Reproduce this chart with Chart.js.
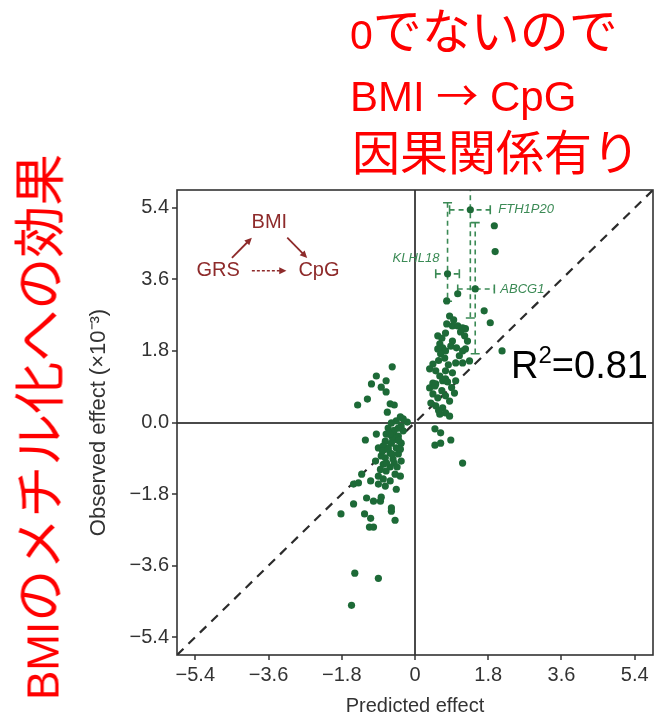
<!DOCTYPE html>
<html>
<head>
<meta charset="utf-8">
<script src="https://cdn.jsdelivr.net/npm/chart.js@4.4.1/dist/chart.umd.min.js"></script>
<style>
  html, body { margin: 0; padding: 0; background: #fff; }
  #wrap { position: relative; width: 657px; height: 715px; overflow: hidden; }
  #c { position: absolute; left: 0; top: 0; }
  .note { position: absolute; color: #ff0000; font-family: "Noto Sans CJK JP", sans-serif; white-space: nowrap; line-height: 1; }
  .lat { font-family: "Liberation Sans", Arial, sans-serif; }
  .r2 { position: absolute; color: #000; font-family: "Liberation Sans", Arial, sans-serif; white-space: nowrap; line-height: 1; }
</style>
</head>
<body>
<div id="wrap">
  <canvas id="c" width="657" height="715"></canvas>
  <div class="note" style="left:350px; top:3px; font-size:49px;"><span class="lat" style="font-size:41px;">0</span>でないので</div>
  <div class="note" style="left:350px; top:72px; font-size:42px;"><span class="lat">BMI </span>→<span class="lat"> CpG</span></div>
  <div class="note" style="left:352px; top:125px; font-size:48px;">因果関係有り</div>
  <div class="note" style="left:38px; top:700px; font-size:52px; transform-origin:0 0; transform:rotate(-90deg) translateY(-50%);"><span class="lat" style="font-size:44px;">BMI</span>のメチル化への効果</div>
  <div class="r2" style="left:511px; top:346px; font-size:38px;">R<span style="font-size:24px; position:relative; top:-15px;">2</span>=0.81</div>
</div>
<script>
// Predicted vs observed CpG methylation effect of BMI (x10^-3)
const predicted = [
  1.95, 1.97, 0.78, 1.05, 1.70, 1.85, 0.85, 0.78, 0.92, 1.05, 1.17, 1.24,
  0.75, 1.22, 0.61, 0.68, 0.56, 0.75, 1.17, 1.24, 0.63, 1.09, 0.73, 1.17,
  0.44, 1.34, 2.14, 0.36, 0.51, 0.75, 0.61, 0.68, 0.44, 0.75, 0.92, 1.00,
  0.36, 0.49, 0.51, 0.80, 0.97, 0.44, 0.56, 0.75, 0.39, 0.51, 0.85, 0.68,
  0.75, 0.85, 0.61, 1.29, 0.92, 0.56, 1.00, 0.95, 1.12, 0.66, 0.88, 1.02,
  0.58, 0.82, 0.66, 0.90, 0.58,
  1.36, 0.80, 1.48,
  0.49, 0.63, 0.88, 0.63, 0.49, 1.17,
  -0.56, -0.95, -0.71, -1.07, -0.83, -0.71, -1.17, -1.41, -0.61, -0.51, -0.68, -0.36,
  -0.19, -0.46, -0.58, -0.34, -0.66, -0.95, -1.22, -0.71, -0.54, -0.41, -0.73, -0.58,
  -0.34, -0.90, -0.66, -0.46, -0.61, -0.73, -0.54, -0.97, -0.34, -0.83, -0.41, -0.78,
  -1.31, -0.90, -0.71, -0.49, -0.36, -0.78, -0.61, -1.51, -1.39, -1.09, -0.90, -0.73,
  -0.46, -1.19, -1.02, -0.83, -0.85, -1.51, -0.58, -0.58, -1.82, -1.24, -1.09, -0.49,
  -1.12, -1.02, -1.48, -0.90, -1.56,
  -0.29, -0.46, -0.36, -0.51, -0.61, -0.29, -0.41, -0.78, -0.56, -0.80, -0.66, -0.51,
  -0.40, -0.62, -0.70, -0.56, -0.44, -0.85
];
const observed = [
  4.95, 4.30, 3.06, 3.24, 2.81, 2.51, 2.68, 2.48, 2.43, 2.43, 2.38, 2.36,
  2.25, 2.18, 1.98, 1.88, 1.85, 1.80, 1.80, 1.85, 1.73, 1.68, 1.62, 1.50,
  1.47, 1.55, 1.80, 1.35, 1.30, 1.30, 1.17, 1.05, 0.99, 1.10, 1.25, 1.05,
  0.87, 0.92, 0.97, 1.02, 0.74, 0.72, 0.62, 0.67, 0.49, 0.42, 0.54, 0.37,
  0.24, 0.16, 0.21, 2.05, 2.05, 2.18, 1.50, 2.58, 2.28, 2.12, 1.92, 1.88,
  1.56, 1.45, 0.80, 0.88, 0.30,
  5.35, 3.74, 3.36,
  -0.16, -0.26, -0.44, -0.52, -0.57, -1.02,
  1.40, 1.17, 1.05, 0.97, 0.89, 0.77, 0.59, 0.44, 0.47, 0.44, 0.26, 0.14,
  0.01, 0.04, -0.01, -0.09, -0.14, -0.29, -0.44, -0.29, -0.26, -0.34, -0.47, -0.52,
  -0.52, -0.64, -0.64, -0.64, -0.77, -0.89, -0.92, -0.97, -0.97, -0.84, -0.79, -1.05,
  -1.30, -1.35, -1.22, -1.30, -1.35, -1.42, -1.47, -1.55, -1.52, -1.47, -1.55, -1.60,
  -1.68, -1.90, -1.98, -1.88, -1.98, -2.05, -2.15, -2.23, -2.30, -2.30, -2.41, -2.46,
  -2.63, -2.63, -3.79, -3.92, -4.60,
  -0.21, -0.42, -0.67, -1.02, -1.12, 0.09, -0.14, -0.59, -0.37, -0.72, -0.67, -0.20,
  -0.45, -0.30, -1.02, -0.80, -1.12, -1.18
];

// Highlighted CpG sites with confidence intervals
const ebNames = ['FTH1P20', 'KLHL18', 'ABCG1'];
const ebX     = [1.36, 0.80, 1.48];
const ebY     = [5.35, 3.74, 3.36];
const ebXLow  = [0.85, 0.51, 1.05];
const ebXHigh = [1.85, 1.09, 1.95];
const ebYLow  = [2.63, 3.05, 1.73];
const ebYHigh = [6.40, 5.53, 5.03];

const tickValues  = [-5.4, -3.6, -1.8, 0, 1.8, 3.6, 5.4];
const xTickLabels = ['\u22125.4', '\u22123.6', '\u22121.8', '0', '1.8', '3.6', '5.4'];
const yTickLabels = ['\u22125.4', '\u22123.6', '\u22121.8', '0.0', '1.8', '3.6', '5.4'];
const axisLimit = 5.85;

const pointColor = '#1d6a37';
const barColor = '#3b8a55';
const insetColor = '#8e2b2b';
const axisFont = { family: '"Liberation Sans", Arial, sans-serif', size: 20 };

function drawArrow(ctx, x1, y1, x2, y2, dashed) {
  const ang = Math.atan2(y2 - y1, x2 - x1);
  const head = 8;
  ctx.beginPath();
  ctx.setLineDash(dashed ? [3, 2] : []);
  ctx.moveTo(x1, y1);
  ctx.lineTo(x2 - Math.cos(ang) * head * 0.8, y2 - Math.sin(ang) * head * 0.8);
  ctx.stroke();
  ctx.setLineDash([]);
  ctx.beginPath();
  ctx.moveTo(x2, y2);
  ctx.lineTo(x2 - head * Math.cos(ang - 0.45), y2 - head * Math.sin(ang - 0.45));
  ctx.lineTo(x2 - head * Math.cos(ang + 0.45), y2 - head * Math.sin(ang + 0.45));
  ctx.closePath();
  ctx.fill();
}

const extras = {
  id: 'extras',
  beforeDatasetsDraw(chart) {
    const { ctx, chartArea: a, scales: { x, y } } = chart;
    ctx.save();
    ctx.beginPath();
    ctx.rect(a.left, a.top, a.width, a.height);
    ctx.clip();
    ctx.strokeStyle = barColor;
    ctx.lineWidth = 1.6;
    const cap = 4.5;
    for (let i = 0; i < ebNames.length; i++) {
      const px = x.getPixelForValue(ebX[i]);
      const py = y.getPixelForValue(ebY[i]);
      const xl = x.getPixelForValue(ebXLow[i]);
      const xh = x.getPixelForValue(ebXHigh[i]);
      const yl = y.getPixelForValue(ebYLow[i]);
      const yh = y.getPixelForValue(ebYHigh[i]);
      ctx.setLineDash([5, 4]);
      ctx.beginPath();
      ctx.moveTo(xl, py); ctx.lineTo(xh, py);
      ctx.moveTo(px, yh); ctx.lineTo(px, yl);
      ctx.stroke();
      ctx.setLineDash([]);
      ctx.beginPath();
      ctx.moveTo(xl, py - cap); ctx.lineTo(xl, py + cap);
      ctx.moveTo(xh, py - cap); ctx.lineTo(xh, py + cap);
      ctx.moveTo(px - cap, yh); ctx.lineTo(px + cap, yh);
      ctx.moveTo(px - cap, yl); ctx.lineTo(px + cap, yl);
      ctx.stroke();
    }
    ctx.restore();
  },
  afterDatasetsDraw(chart) {
    const { ctx, chartArea: a, scales: { x, y } } = chart;
    ctx.save();
    // plot frame
    ctx.strokeStyle = '#333';
    ctx.lineWidth = 1.6;
    ctx.strokeRect(a.left, a.top, a.width, a.height);

    // site labels
    ctx.fillStyle = barColor;
    ctx.font = 'italic 13px "Liberation Sans", Arial, sans-serif';
    ctx.textBaseline = 'middle';
    ctx.textAlign = 'left';
    ctx.fillText(ebNames[0], x.getPixelForValue(ebXHigh[0]) + 8, y.getPixelForValue(ebY[0]));
    ctx.fillText(ebNames[2], x.getPixelForValue(ebXHigh[2]) + 6, y.getPixelForValue(ebY[2]));
    ctx.textAlign = 'right';
    ctx.fillText(ebNames[1], x.getPixelForValue(ebX[1]) - 8, y.getPixelForValue(4.12));

    // causal diagram
    ctx.fillStyle = insetColor;
    ctx.strokeStyle = insetColor;
    ctx.lineWidth = 1.8;
    ctx.font = '20px "Liberation Sans", Arial, sans-serif';
    ctx.textAlign = 'center';
    ctx.fillText('BMI', x.getPixelForValue(-3.58), y.getPixelForValue(5.03));
    ctx.fillText('GRS', x.getPixelForValue(-4.84), y.getPixelForValue(3.82));
    ctx.fillText('CpG', x.getPixelForValue(-2.36), y.getPixelForValue(3.82));
    drawArrow(ctx, x.getPixelForValue(-4.50), y.getPixelForValue(4.14), x.getPixelForValue(-4.01), y.getPixelForValue(4.65), false);
    drawArrow(ctx, x.getPixelForValue(-3.14), y.getPixelForValue(4.65), x.getPixelForValue(-2.65), y.getPixelForValue(4.14), false);
    ctx.lineWidth = 1.4;
    drawArrow(ctx, x.getPixelForValue(-4.01), y.getPixelForValue(3.82), x.getPixelForValue(-3.16), y.getPixelForValue(3.82), true);
    ctx.restore();
  }
};

function gridColor(c) {
  return (c.tick && c.tick.value === 0) ? '#4a4a4a' : 'rgba(0,0,0,0)';
}

new Chart(document.getElementById('c'), {
  type: 'scatter',
  data: {
    datasets: [
      {
        label: 'CpG sites',
        data: predicted.map((v, i) => ({ x: v, y: observed[i] })),
        backgroundColor: pointColor,
        borderColor: pointColor,
        borderWidth: 0,
        pointRadius: 3.6,
        order: 0
      },
      {
        label: 'identity',
        type: 'line',
        data: [{ x: -axisLimit, y: -axisLimit }, { x: axisLimit, y: axisLimit }],
        borderColor: '#2b2b2b',
        borderWidth: 2.2,
        borderDash: [9, 7],
        pointRadius: 0,
        fill: false,
        order: 1
      }
    ]
  },
  options: {
    responsive: false,
    animation: false,
    devicePixelRatio: 1,
    layout: { padding: { left: 0, right: 2, top: 190, bottom: 0 } },
    plugins: { legend: { display: false }, tooltip: { enabled: false } },
    scales: {
      x: {
        type: 'linear',
        min: -axisLimit,
        max: axisLimit,
        afterBuildTicks: s => { s.ticks = tickValues.map(v => ({ value: v })); },
        afterFit: s => { s.height = 60; },
        border: { display: false },
        grid: { color: gridColor, lineWidth: 2, tickColor: '#333', tickLength: 5, tickWidth: 1.5 },
        ticks: { color: '#333', font: axisFont, padding: 3, maxRotation: 0, autoSkip: false,
                 callback: (v, i) => xTickLabels[i] },
        title: { display: true, text: 'Predicted effect', color: '#333',
                 font: { family: axisFont.family, size: 20, lineHeight: 0.9 }, padding: { top: 0, bottom: 0 } }
      },
      y: {
        type: 'linear',
        min: -axisLimit,
        max: axisLimit,
        afterBuildTicks: s => { s.ticks = tickValues.map(v => ({ value: v })); },
        afterFit: s => { s.width = 177; },
        border: { display: false },
        grid: { color: gridColor, lineWidth: 2, tickColor: '#333', tickLength: 5, tickWidth: 1.5 },
        ticks: { color: '#333', font: axisFont, padding: 3, autoSkip: false,
                 callback: (v, i) => yTickLabels[i] },
        title: { display: true, text: 'Observed effect (\u00d710\u207b\u00b3)', color: '#333',
                 font: { family: axisFont.family, size: 22, lineHeight: 1.2 }, padding: { top: 86, bottom: 0 } }
      }
    }
  },
  plugins: [extras]
});
</script>
</body>
</html>
